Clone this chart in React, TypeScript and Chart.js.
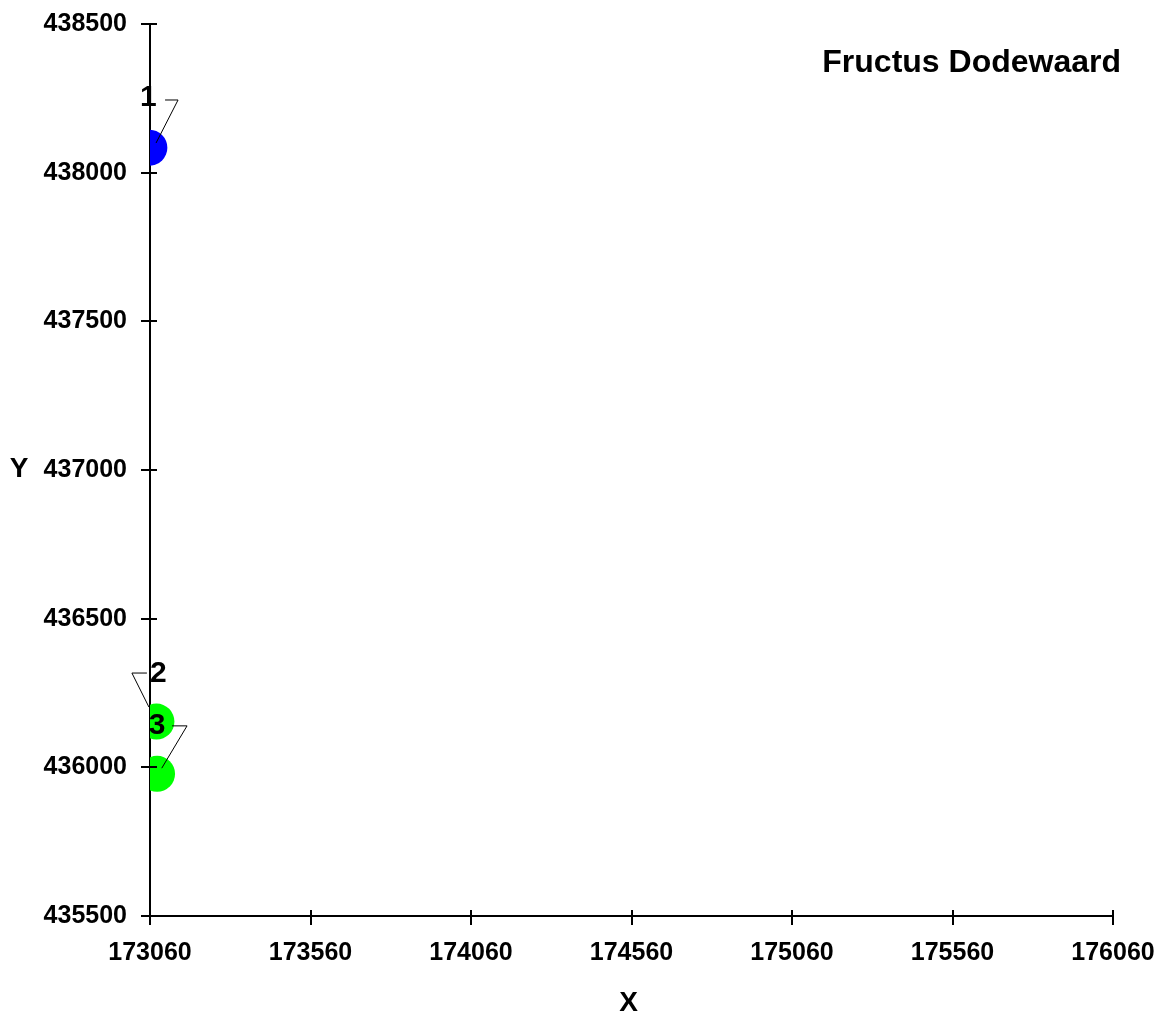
import React, { useEffect, useRef } from 'react';
import { Chart, registerables } from 'chart.js';

Chart.register(...registerables);

// ---- data ----
const pointLabels = ['1', '2', '3'];
const xValues = [173058, 173080, 173082];
const yValues = [438084, 436154, 435978];
const pointColors = ['#0000ff', '#00ff00', '#00ff00'];
const xTicks = [173060, 173560, 174060, 174560, 175060, 175560, 176060];
const yTicks = [435500, 436000, 436500, 437000, 437500, 438000, 438500];
const chartTitle = 'Fructus Dodewaard';
const xTitle = 'X';
const yTitle = 'Y';

// ---- style ----
const FONT = '"Liberation Sans", Arial, Helvetica, sans-serif';
// label placement / leader line geometry relative to each point centre (px)
const labelLayout = [
  { lx: -1, ly: -50, hx1: 15.7, hx2: 28.7, hy: -47.7, tx: 6.7, ty: -4.7 },
  { lx: 2, ly: -48, hx1: -9.5, hx2: -24.5, hy: -48.5, tx: -7.5, ty: -14.5 },
  { lx: 0, ly: -48.5, hx1: 15, hx2: 30, hy: -48, tx: 4.7, ty: -5.7 },
];

const zeroPad = (s: any) => {
  s.paddingTop = 0;
  s.paddingBottom = 0;
  s.paddingLeft = 0;
  s.paddingRight = 0;
};

const overlayPlugin = {
  id: 'overlay',
  afterDraw(chart: any) {
    const ctx = chart.ctx as CanvasRenderingContext2D;
    const xs = chart.scales.x;
    const ys = chart.scales.y;
    const area = chart.chartArea;
    ctx.save();
    // tick marks crossing the axes
    ctx.strokeStyle = '#000';
    ctx.lineWidth = 2;
    ctx.beginPath();
    xTicks.forEach((v) => {
      const px = Math.round(xs.getPixelForValue(v));
      ctx.moveTo(px, area.bottom - 6);
      ctx.lineTo(px, area.bottom + 9);
    });
    yTicks.forEach((v) => {
      const py = Math.round(ys.getPixelForValue(v));
      ctx.moveTo(area.left - 9, py);
      ctx.lineTo(area.left + 7, py);
    });
    ctx.stroke();

    // leader lines
    const meta = chart.getDatasetMeta(0);
    ctx.lineWidth = 1;
    ctx.strokeStyle = '#000';
    meta.data.forEach((el: any, i: number) => {
      const L = labelLayout[i];
      if (!L) return;
      ctx.beginPath();
      ctx.moveTo(el.x + L.hx1, el.y + L.hy);
      ctx.lineTo(el.x + L.hx2, el.y + L.hy);
      ctx.lineTo(el.x + L.tx, el.y + L.ty);
      ctx.stroke();
    });
    // point labels
    ctx.fillStyle = '#000';
    ctx.font = `bold 30px ${FONT}`;
    ctx.textAlign = 'center';
    ctx.textBaseline = 'middle';
    meta.data.forEach((el: any, i: number) => {
      const L = labelLayout[i];
      if (!L) return;
      ctx.fillText(pointLabels[i], el.x + L.lx, el.y + L.ly);
    });

    // chart title
    ctx.font = `bold 32px ${FONT}`;
    ctx.textAlign = 'right';
    ctx.textBaseline = 'alphabetic';
    ctx.fillText(chartTitle, 1121, 71.5);

    // axis titles
    ctx.font = `bold 28px ${FONT}`;
    ctx.textAlign = 'center';
    ctx.fillText(yTitle, 19, 476.5);
    ctx.fillText(xTitle, (area.left + area.right) / 2 - 3, 1011);
    ctx.restore();
  },
};

export default function App() {
  const ref = useRef<HTMLCanvasElement | null>(null);
  useEffect(() => {
    if (!ref.current) return;
    const chart = new Chart(ref.current, {
      type: 'scatter',
      data: {
        datasets: [
          {
            label: 'points',
            data: xValues.map((x, i) => ({ x, y: yValues[i] })),
            pointBackgroundColor: pointColors,
            pointBorderWidth: 0,
            pointRadius: 18,
            pointHoverRadius: 18,
            showLine: false,
            clip: 0,
          } as any,
        ],
      },
      options: {
        animation: false,
        responsive: false,
        devicePixelRatio: 1,
        events: [],
        layout: { padding: { left: 0, top: 24, right: 45, bottom: 0 } },
        plugins: { legend: { display: false }, tooltip: { enabled: false }, title: { display: false } },
        scales: {
          x: {
            type: 'linear',
            position: 'bottom',
            min: xTicks[0],
            max: xTicks[xTicks.length - 1],
            afterBuildTicks: (s: any) => {
              s.ticks = xTicks.map((v) => ({ value: v }));
            },
            afterFit: (s: any) => {
              s.height = 96;
              zeroPad(s);
            },
            grid: { display: false, drawTicks: false },
            border: { display: true, color: '#000', width: 2 },
            ticks: {
              autoSkip: false,
              maxRotation: 0,
              padding: 22,
              color: '#000',
              font: { family: FONT, size: 25, weight: 'bold' },
              callback: (v: any) => String(Math.round(Number(v))),
            },
          },
          y: {
            type: 'linear',
            position: 'left',
            min: yTicks[0],
            max: yTicks[yTicks.length - 1],
            afterBuildTicks: (s: any) => {
              s.ticks = yTicks.map((v) => ({ value: v }));
            },
            afterFit: (s: any) => {
              s.width = 150;
              zeroPad(s);
            },
            grid: { display: false, drawTicks: false },
            border: { display: true, color: '#000', width: 2 },
            ticks: {
              autoSkip: false,
              padding: 23,
              color: '#000',
              font: { family: FONT, size: 25, weight: 'bold' },
              callback: (v: any) => String(Math.round(Number(v))),
            },
          },
        },
      },
      plugins: [overlayPlugin],
    });
    return () => chart.destroy();
  }, []);
  return (
    <div style={{ position: 'absolute', left: 0, top: 0, width: 1158, height: 1012, background: '#fff' }}>
      <canvas ref={ref} width={1158} height={1012} style={{ display: 'block' }} />
    </div>
  );
}
